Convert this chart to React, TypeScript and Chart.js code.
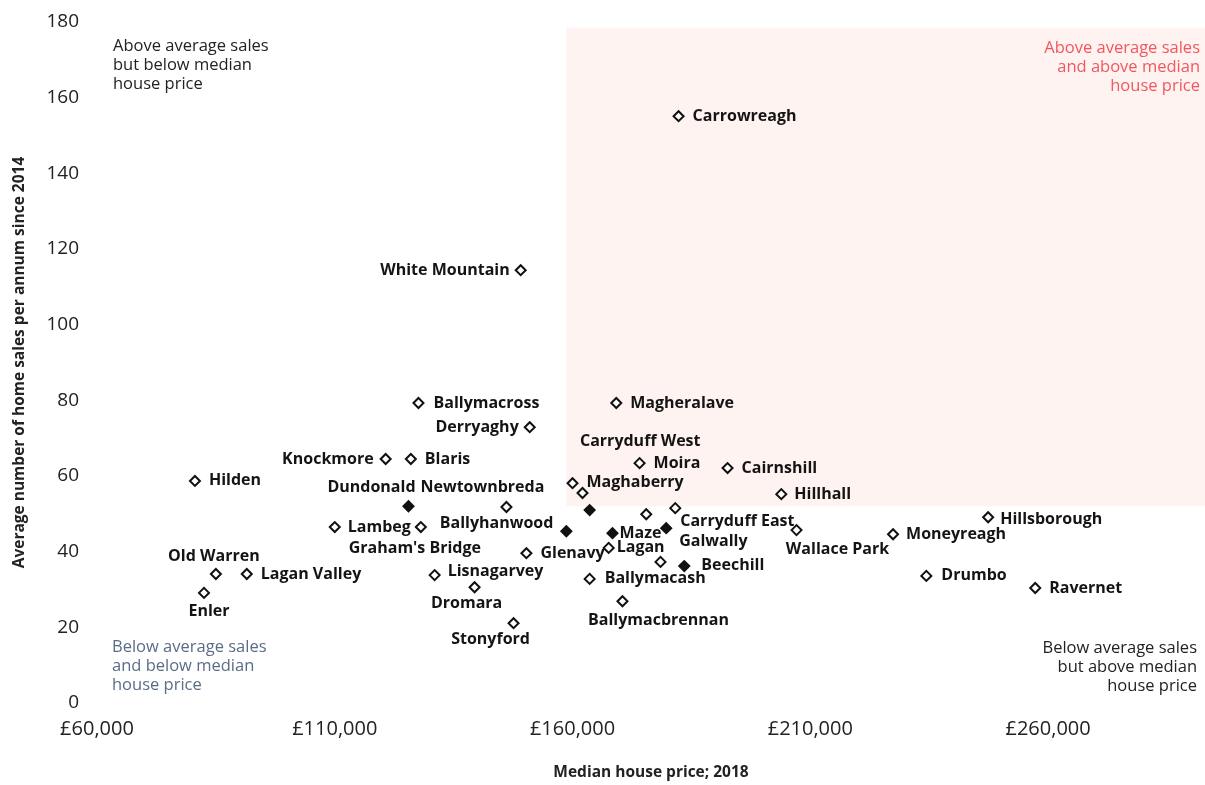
import React, { useEffect, useRef } from "react";
import { Chart, registerables } from "chart.js";

Chart.register(...registerables);

// ---- Data ----
const areas = [
  "Carrowreagh", "White Mountain", "Ballymacross", "Magheralave", "Derryaghy",
  "Knockmore", "Blaris", "Hilden", "Moira", "Cairnshill",
  "Hillhall", "Dundonald", "Newtownbreda", "Maghaberry", "",
  "", "Ballyhanwood", "Lambeg", "Graham's Bridge", "Maze",
  "Lagan", "Carryduff West", "Carryduff East", "Galwally", "",
  "Beechill", "Glenavy", "Lisnagarvey", "Dromara", "Stonyford",
  "Ballymacash", "Ballymacbrennan", "Wallace Park", "Moneyreagh", "Hillsborough",
  "Drumbo", "Ravernet", "Old Warren", "Lagan Valley", "Enler",
];

const medianPrice = [
  182300, 149100, 127600, 169200, 151000,
  120700, 126000, 80600, 174100, 192600,
  203900, 125500, 146100, 160000, 162100,
  163600, 158700, 110000, 128100, 168400,
  167600, 175500, 181600, 179700, 178500,
  183500, 150300, 131000, 139400, 147600,
  163600, 170500, 207100, 227400, 247400,
  234400, 257300, 85000, 91500, 82500,
];

const avgSales = [
  155.1, 114.4, 79.3, 79.3, 72.9,
  64.5, 64.5, 58.7, 63.4, 62.1,
  55.2, 52.0, 51.8, 58.1, 55.5,
  51.0, 45.4, 46.5, 46.5, 44.9,
  41.0, 49.9, 51.5, 46.2, 37.3,
  36.2, 39.6, 33.8, 30.6, 21.1,
  32.8, 26.9, 45.7, 44.6, 49.1,
  33.6, 30.4, 34.1, 34.1, 29.1,
];

const xTickValues = [60000, 110000, 160000, 210000, 260000];
const yTickValues = [0, 20, 40, 60, 80, 100, 120, 140, 160, 180];

const medianThreshold = 158700;
const salesThreshold = 52;
const shadeTop = 178.5;

// ---- Styling (kept apart from the data) ----
const filledMarker = [
  false, false, false, false, false,
  false, false, false, false, false,
  false, true, false, false, false,
  true, true, false, false, true,
  false, false, false, true, false,
  true, false, false, false, false,
  false, false, false, false, false,
  false, false, false, false, false,
];

// [dx, dy, align] label offset from its marker, in pixels
const labelPlacement: [number, number, CanvasTextAlign][] = [
  [14, 0, "left"], [-11, 0, "right"], [15, 0, "left"], [14, 0, "left"], [-11, 0, "right"],
  [-12, 0, "right"], [14, 0, "left"], [14, 0, "left"], [14, 0, "left"], [14, 0, "left"],
  [13, 0, "left"], [-37, -19, "center"], [-24, -20, "center"], [14, -1, "left"], [0, 0, "left"],
  [0, 0, "left"], [-13, -8, "right"], [13, 0, "left"], [-6, 21, "center"], [7, 0, "left"],
  [8, 0, "left"], [-6, -73, "center"], [5, 13, "left"], [13, 13, "left"], [0, 0, "left"],
  [17, -1, "left"], [14, 0, "left"], [13, -4, "left"], [-8, 16, "center"], [-23, 16, "center"],
  [15, 0, "left"], [36, 19, "center"], [41, 19, "center"], [13, 0, "left"], [12, 2, "left"],
  [15, 0, "left"], [14, 0, "left"], [-2, -18, "center"], [14, 0, "left"], [5, 19, "center"],
];

const FONT = "'Open Sans', 'Noto Sans', sans-serif";

const quadrantShade = {
  id: "quadrantShade",
  beforeDatasetsDraw(chart: any) {
    const { ctx, chartArea, scales } = chart;
    const x0 = scales.x.getPixelForValue(medianThreshold);
    const y0 = scales.y.getPixelForValue(shadeTop);
    const y1 = scales.y.getPixelForValue(salesThreshold);
    ctx.save();
    ctx.fillStyle = "#fef3f0";
    ctx.fillRect(x0, y0, chartArea.right - x0, y1 - y0);
    ctx.restore();
  },
};

const pointLabels = {
  id: "pointLabels",
  afterDatasetsDraw(chart: any) {
    const { ctx } = chart;
    const meta = chart.getDatasetMeta(0);
    ctx.save();
    ctx.font = `bold 16px ${FONT}`;
    ctx.fillStyle = "#141414";
    ctx.textBaseline = "middle";
    meta.data.forEach((el: any, i: number) => {
      const name = areas[i];
      if (!name) return;
      const [dx, dy, align] = labelPlacement[i];
      ctx.textAlign = align;
      ctx.fillText(name, el.x + dx, el.y + dy);
    });
    ctx.restore();
  },
};

const quadrantNotes = {
  id: "quadrantNotes",
  afterDraw(chart: any) {
    const { ctx, chartArea } = chart;
    const notes: { lines: string[]; x: number; y: number; align: CanvasTextAlign; color: string }[] = [
      { lines: ["Above average sales", "but below median", "house price"], x: chartArea.left + 16, y: chartArea.top + 24, align: "left", color: "#222" },
      { lines: ["Above average sales", "and above median", "house price"], x: chartArea.right - 5, y: chartArea.top + 26, align: "right", color: "#f2575e" },
      { lines: ["Below average sales", "and below median", "house price"], x: chartArea.left + 15, y: chartArea.bottom - 56, align: "left", color: "#5b6c88" },
      { lines: ["Below average sales", "but above median", "house price"], x: chartArea.right - 8, y: chartArea.bottom - 55, align: "right", color: "#222" },
    ];
    ctx.save();
    ctx.font = `16.5px ${FONT}`;
    ctx.textBaseline = "middle";
    notes.forEach((n) => {
      ctx.fillStyle = n.color;
      ctx.textAlign = n.align;
      n.lines.forEach((l, k) => ctx.fillText(l, n.x, n.y + k * 19));
    });
    ctx.restore();
  },
};

export default function App() {
  const ref = useRef<HTMLCanvasElement | null>(null);

  useEffect(() => {
    document.body.style.margin = "0";
    const canvas = ref.current;
    if (!canvas) return;
    const chart = new Chart(canvas, {
      type: "scatter",
      data: {
        datasets: [
          {
            data: areas.map((_, i) => ({ x: medianPrice[i], y: avgSales[i] })),
            pointStyle: "rectRot",
            pointRadius: 5,
            pointBorderWidth: 2,
            pointBorderColor: "#111",
            pointBackgroundColor: filledMarker.map((f) => (f ? "#111" : "#fff")),
          },
        ],
      },
      options: {
        responsive: false,
        animation: false,
        layout: { autoPadding: false, padding: { top: 22, right: 0, bottom: 0, left: 0 } },
        plugins: {
          legend: { display: false },
          tooltip: { enabled: false },
        },
        scales: {
          x: {
            type: "linear",
            min: 60000,
            max: 293000,
            afterBuildTicks: (s: any) => {
              s.ticks = xTickValues.map((v) => ({ value: v }));
            },
            afterFit: (s: any) => {
              s.height = 82;
              s.paddingLeft = 0;
              s.paddingRight = 0;
            },
            grid: { display: false, drawTicks: false },
            border: { display: false },
            ticks: {
              padding: 14,
              maxRotation: 0,
              autoSkip: false,
              color: "#222",
              font: { family: FONT, size: 20 },
              callback: (v: any) => "£" + Number(v).toLocaleString("en-GB"),
            },
            title: {
              display: true,
              text: "Median house price; 2018",
              color: "#222",
              font: { family: FONT, size: 15.5, weight: "bold" },
              padding: { top: 0, bottom: 3 },
            },
          },
          y: {
            type: "linear",
            min: 0,
            max: 180,
            afterBuildTicks: (s: any) => {
              s.ticks = yTickValues.map((v) => ({ value: v }));
            },
            afterFit: (s: any) => {
              s.width = 97;
              s.paddingTop = 0;
              s.paddingBottom = 0;
            },
            grid: { display: false, drawTicks: false },
            border: { display: false },
            ticks: {
              padding: 18,
              autoSkip: false,
              color: "#222",
              font: { family: FONT, size: 19 },
            },
            title: {
              display: true,
              text: "Average number of home sales per annum since 2014",
              color: "#222",
              font: { family: FONT, size: 15.5, weight: "bold" },
              padding: { top: 10, bottom: 0 },
            },
          },
        },
      },
      plugins: [quadrantShade, pointLabels, quadrantNotes],
    });
    return () => chart.destroy();
  }, []);

  return (
    <div style={{ width: 1205, height: 785 }}>
      <canvas ref={ref} width={1205} height={785} />
    </div>
  );
}
